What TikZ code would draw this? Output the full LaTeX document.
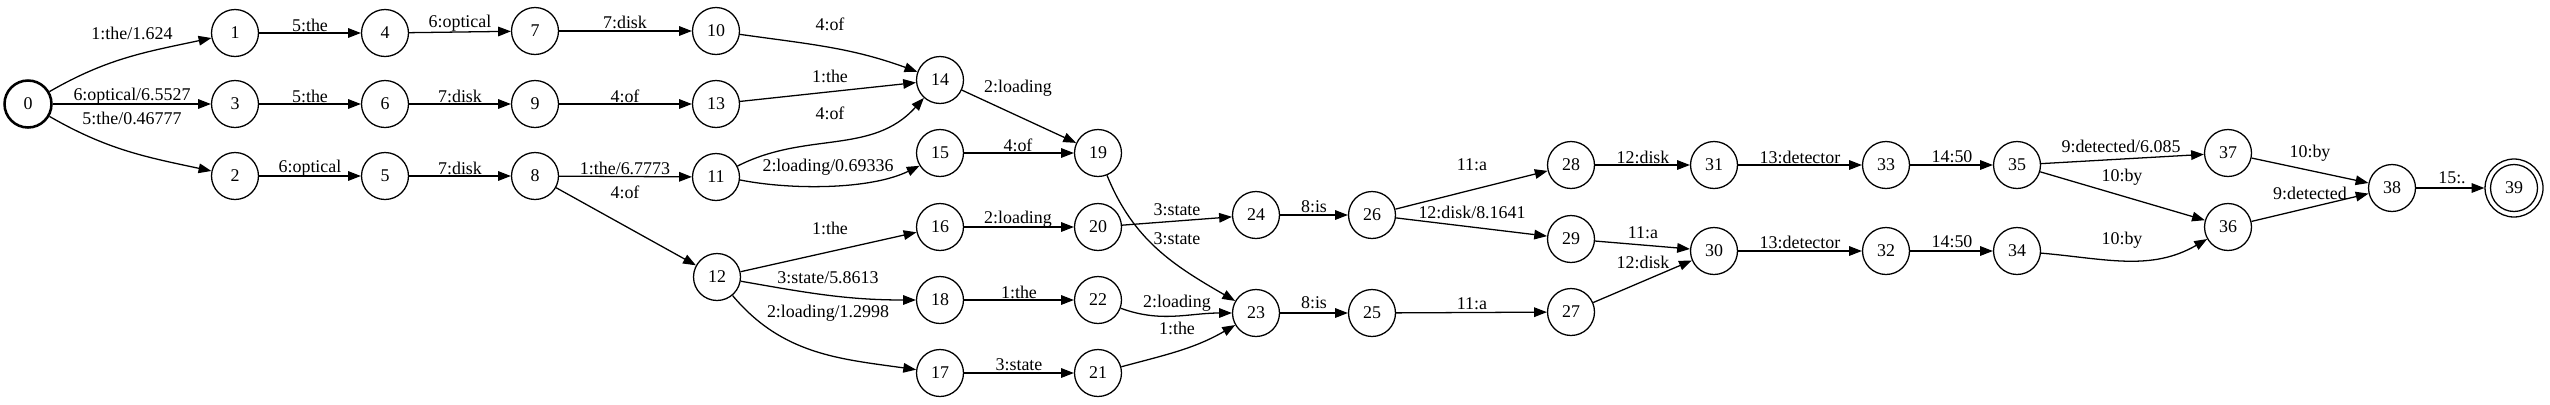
\documentclass[tikz,border=0pt]{standalone}
\usepackage{fontspec}
\setmainfont{Liberation Serif}
\usetikzlibrary{arrows.meta}
\tikzset{
  st/.style={circle,draw,line width=1pt,minimum size=36.7pt,inner sep=0pt,font=\fontsize{14}{16}\selectfont},
  lbl/.style={inner sep=0pt,font=\fontsize{14}{16}\selectfont},
  ed/.style={line width=1pt,-{Triangle[length=10pt,width=7.5pt]}},
}
\begin{document}
\begin{tikzpicture}[x=0.78125pt,y=0.78125pt]
\useasboundingbox (0,0) rectangle (2550,-404);
% states
\node[st,line width=2pt] (n0) at (28,-104) {0};
\node[st] (n1) at (235,-33) {1};
\node[st] (n3) at (235,-104) {3};
\node[st] (n2) at (235,-176) {2};
\node[st] (n4) at (385,-33) {4};
\node[st] (n6) at (385,-104) {6};
\node[st] (n5) at (385,-176) {5};
\node[st] (n7) at (535,-31) {7};
\node[st] (n9) at (535,-104) {9};
\node[st] (n8) at (535,-176) {8};
\node[st] (n10) at (716,-31) {10};
\node[st] (n13) at (716,-104) {13};
\node[st] (n11) at (716,-177) {11};
\node[st] (n12) at (717,-277) {12};
\node[st] (n14) at (940,-80) {14};
\node[st] (n15) at (940,-153) {15};
\node[st] (n16) at (940,-227) {16};
\node[st] (n18) at (940,-300) {18};
\node[st] (n17) at (940,-373) {17};
\node[st] (n19) at (1098,-153) {19};
\node[st] (n20) at (1098,-227) {20};
\node[st] (n22) at (1098,-300) {22};
\node[st] (n21) at (1098,-373) {21};
\node[st] (n24) at (1256,-215) {24};
\node[st] (n23) at (1256,-313) {23};
\node[st] (n26) at (1372,-215) {26};
\node[st] (n25) at (1372,-313) {25};
\node[st] (n28) at (1571,-165) {28};
\node[st] (n29) at (1571,-239) {29};
\node[st] (n27) at (1571,-312) {27};
\node[st] (n31) at (1714,-165) {31};
\node[st] (n30) at (1714,-251) {30};
\node[st] (n33) at (1886,-165) {33};
\node[st] (n32) at (1886,-251) {32};
\node[st] (n35) at (2017,-165) {35};
\node[st] (n34) at (2017,-251) {34};
\node[st] (n37) at (2228,-153) {37};
\node[st] (n36) at (2228,-227) {36};
\node[st] (n38) at (2392,-188) {38};
\node[st] (n39) at (2514,-188) {39};
\node[circle,draw,line width=1pt,minimum size=45.3pt,inner sep=0pt] (n39o) at (n39) {};
% edges
\draw[ed] (n0) to[out=30,in=192] (n1);
\draw[ed] (n0) -- (n3);
\draw[ed] (n0) to[out=-30,in=168] (n2);
\draw[ed] (n1) -- (n4);
\draw[ed] (n3) -- (n6);
\draw[ed] (n2) -- (n5);
\draw[ed] (n4) -- (n7);
\draw[ed] (n6) -- (n9);
\draw[ed] (n5) -- (n8);
\draw[ed] (n7) -- (n10);
\draw[ed] (n9) -- (n13);
\draw[ed] (n8) -- (n11);
\draw[ed] (n8) -- (n12);
\draw[ed] (n10) to[out=-8,in=160] (n14);
\draw[ed] (n13) -- (n14);
\draw[ed] (n11) to[out=27,in=228] (n14);
\draw[ed] (n11.-7) .. controls (790,-190) and (870,-190) .. (n15.212);
\draw[ed] (n12) -- (n16);
\draw[ed] (n12) to[out=-10,in=180] (n18);
\draw[ed] (n12) to[out=-50,in=172] (n17);
\draw[ed] (n14) -- (n19);
\draw[ed] (n15) -- (n19);
\draw[ed] (n16) -- (n20);
\draw[ed] (n18) -- (n22);
\draw[ed] (n17) -- (n21);
\draw[ed] (n20) -- (n24);
\draw[ed] (n19) to[out=-68,in=150] (n23);
\draw[ed] (n22) to[out=-20,in=180] (n23);
\draw[ed] (n21) to[out=15,in=210] (n23);
\draw[ed] (n24) -- (n26);
\draw[ed] (n23) -- (n25);
\draw[ed] (n26) -- (n28);
\draw[ed] (n26) -- (n29);
\draw[ed] (n25) -- (n27);
\draw[ed] (n28) -- (n31);
\draw[ed] (n29) -- (n30);
\draw[ed] (n27) -- (n30);
\draw[ed] (n31) -- (n33);
\draw[ed] (n30) -- (n32);
\draw[ed] (n33) -- (n35);
\draw[ed] (n32) -- (n34);
\draw[ed] (n35) -- (n37);
\draw[ed] (n35) -- (n36);
\draw[ed] (n34) to[out=-5,in=210] (n36);
\draw[ed] (n37) -- (n38);
\draw[ed] (n36) -- (n38);
\draw[ed] (n38) -- (n39o);
% labels
\node[lbl] (l01) at (132,-33) {1:the/1.624};
\node[lbl] (l03) at (132,-96) {6:optical/6.5527};
\node[lbl] (l02) at (132,-118) {5:the/0.46777};
\node[lbl] (l14) at (310,-25) {5:the};
\node[lbl] (l36) at (310,-96) {5:the};
\node[lbl] (l25) at (310,-168) {6:optical};
\node[lbl] (l47) at (460,-23) {6:optical};
\node[lbl] (l69) at (460,-96) {7:disk};
\node[lbl] (l58) at (460,-168) {7:disk};
\node[lbl] (l710) at (625,-22) {7:disk};
\node[lbl] (l913) at (625,-96) {4:of};
\node[lbl] (l811) at (625,-168) {1:the/6.7773};
\node[lbl] (l812) at (625,-192) {4:of};
\node[lbl] (l1014) at (830,-24) {4:of};
\node[lbl] (l1314) at (830,-76) {1:the};
\node[lbl] (l1114) at (830,-113) {4:of};
\node[lbl] (l1115) at (828,-167) {2:loading/0.69336};
\node[lbl] (l1216) at (830,-228) {1:the};
\node[lbl] (l1218) at (828,-278) {3:state/5.8613};
\node[lbl] (l1217) at (828,-313) {2:loading/1.2998};
\node[lbl] (l1419) at (1018,-88) {2:loading};
\node[lbl] (l1519) at (1018,-145) {4:of};
\node[lbl] (l1620) at (1018,-219) {2:loading};
\node[lbl] (l1822) at (1019,-292) {1:the};
\node[lbl] (l1721) at (1019,-365) {3:state};
\node[lbl] (l2024) at (1177,-210) {3:state};
\node[lbl] (l1923) at (1177,-239) {3:state};
\node[lbl] (l2223) at (1177,-303) {2:loading};
\node[lbl] (l2123) at (1177,-328) {1:the};
\node[lbl] (l2426) at (1314,-207) {8:is};
\node[lbl] (l2325) at (1314,-303) {8:is};
\node[lbl] (l2628) at (1472,-165) {11:a};
\node[lbl] (l2629) at (1472,-212) {12:disk/8.1641};
\node[lbl] (l2527) at (1472,-304) {11:a};
\node[lbl] (l2831) at (1643,-157) {12:disk};
\node[lbl] (l2930) at (1643,-233) {11:a};
\node[lbl] (l2730) at (1643,-262) {12:disk};
\node[lbl] (l3133) at (1800,-157) {13:detector};
\node[lbl] (l3032) at (1800,-242) {13:detector};
\node[lbl] (l3335) at (1952,-157) {14:50};
\node[lbl] (l3234) at (1952,-242) {14:50};
\node[lbl] (l3537) at (2121,-146) {9:detected/6.085};
\node[lbl] (l3536) at (2122,-177) {10:by};
\node[lbl] (l3436) at (2122,-240) {10:by};
\node[lbl] (l3738) at (2310,-153) {10:by};
\node[lbl] (l3638) at (2310,-193) {9:detected};
\node[lbl] (l3839) at (2452,-178) {15:.};
\end{tikzpicture}
\end{document}
